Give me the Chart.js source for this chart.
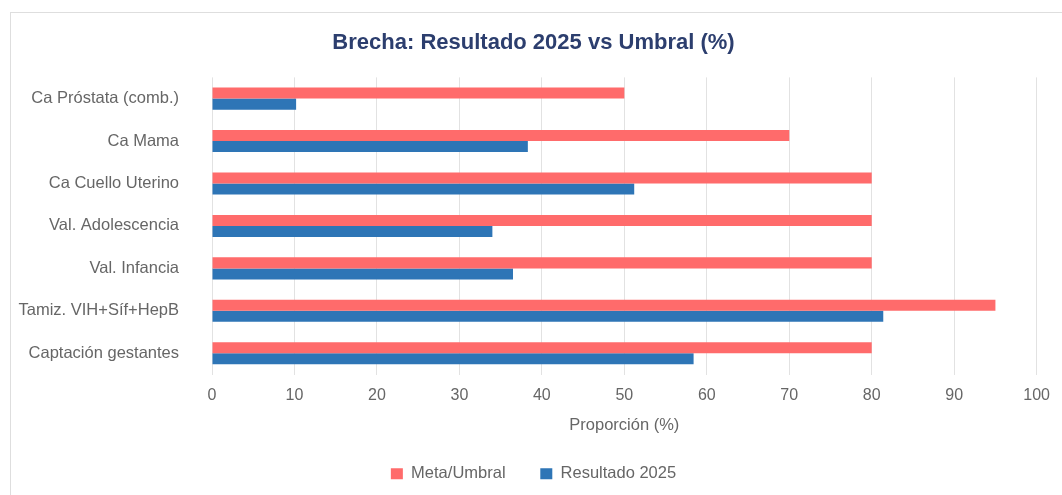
<!DOCTYPE html>
<html lang="es">
<head>
  <meta charset="UTF-8" />
  <title>Brecha</title>
  <script src="https://cdn.jsdelivr.net/npm/chart.js"></script>
  <style>
    html, body { margin: 0; padding: 0; background: #fff; }
    .card {
      position: absolute; left: 10px; top: 12px;
      width: 1070px; height: 500px;
      border: 1px solid #dedede; box-sizing: border-box;
    }
    .chart-wrap {
      position: absolute; left: 11px; top: 13px;
      width: 1050px; height: 482px;
    }
  </style>
</head>
<body>
  <div class="card"></div>
  <div class="chart-wrap"><canvas id="gapChart"></canvas></div>

  <script>
    const categories = [
      "Ca Próstata (comb.)",
      "Ca Mama",
      "Ca Cuello Uterino",
      "Val. Adolescencia",
      "Val. Infancia",
      "Tamiz. VIH+Síf+HepB",
      "Captación gestantes"
    ];
    const metaUmbral = [50, 70, 80, 80, 80, 95, 80];
    const resultado2025 = [10.2, 38.3, 51.2, 34.0, 36.5, 81.4, 58.4];
    const xTicks = [0, 10, 20, 30, 40, 50, 60, 70, 80, 90, 100];

    const font = "Arial, 'Liberation Sans', Helvetica, sans-serif";

    new Chart(document.getElementById("gapChart"), {
      type: "bar",
      data: {
        labels: categories,
        datasets: [
          {
            label: "Meta/Umbral",
            data: metaUmbral,
            backgroundColor: "#ff6b6b",
            barPercentage: 1,
            categoryPercentage: 0.52
          },
          {
            label: "Resultado 2025",
            data: resultado2025,
            backgroundColor: "#2e75b6",
            barPercentage: 1,
            categoryPercentage: 0.52
          }
        ]
      },
      options: {
        indexAxis: "y",
        responsive: true,
        maintainAspectRatio: false,
        animation: false,
        layout: { padding: { left: 6, right: 11, bottom: 3 } },
        plugins: {
          title: {
            display: true,
            text: "Brecha: Resultado 2025 vs Umbral (%)",
            color: "#2c3e6e",
            font: { family: font, size: 22, weight: "bold" },
            padding: { top: 17, bottom: 21 }
          },
          legend: {
            position: "bottom",
            labels: {
              color: "#666",
              font: { family: font, size: 16.5 },
              boxWidth: 12,
              boxHeight: 11,
              padding: 10,
              // wider gap between the two entries than the vertical padding
              generateLabels: chart => {
                const items = Chart.defaults.plugins.legend.labels.generateLabels(chart);
                if (items.length) items[0].text += "\u2002\u2002\u2002";
                return items;
              }
            }
          },
          tooltip: { enabled: false }
        },
        scales: {
          x: {
            min: 0,
            max: 100,
            afterBuildTicks: s => { s.ticks = xTicks.map(v => ({ value: v })); },
            grid: { color: "#e2e2e2", drawTicks: false },
            border: { display: false },
            ticks: { color: "#666", font: { family: font, size: 16 }, padding: 11 },
            title: {
              display: true,
              text: "Proporción (%)",
              color: "#666",
              font: { family: font, size: 16.5 },
              padding: { top: 0, bottom: 20 }
            }
          },
          y: {
            grid: { display: false },
            border: { display: false },
            ticks: { color: "#666", font: { family: font, size: 16.5 }, padding: 25 },
            afterFit: s => { s.width = 195; }
          }
        }
      }
    });
  </script>
</body>
</html>
